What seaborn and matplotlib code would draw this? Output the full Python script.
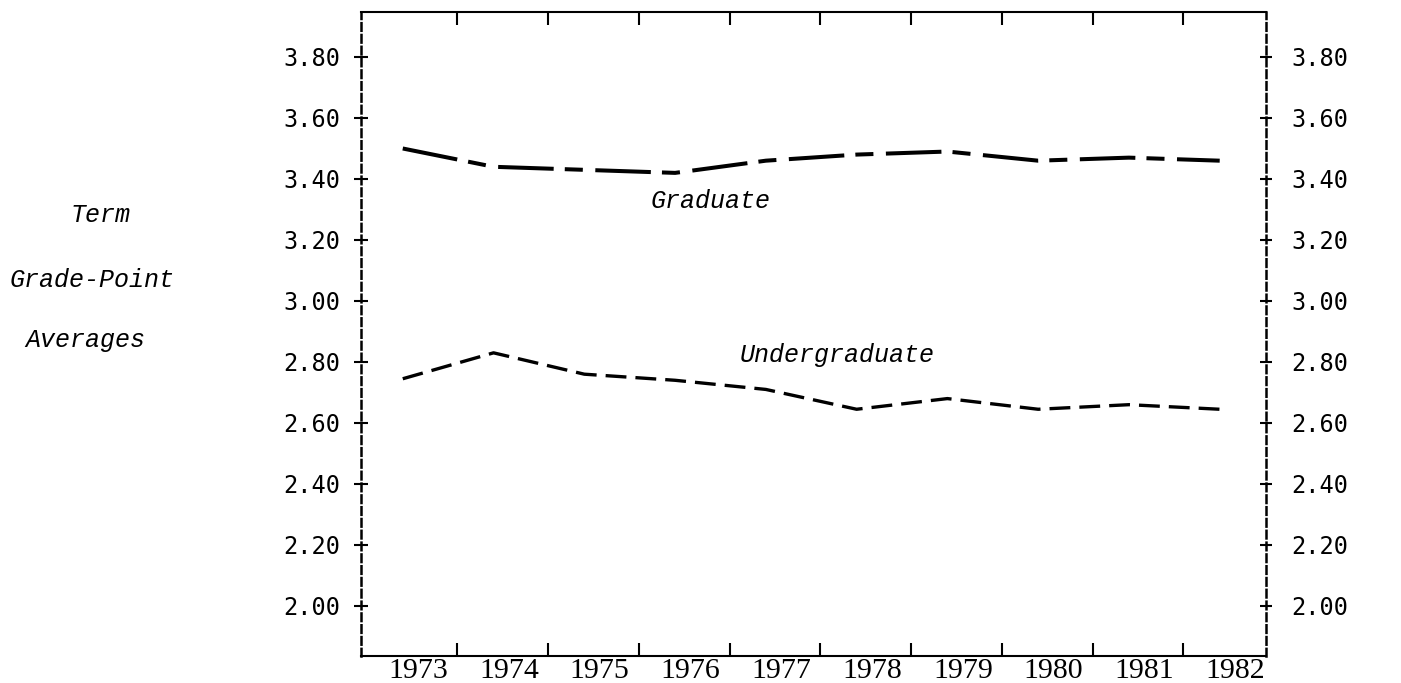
import matplotlib
matplotlib.use("Agg")
import matplotlib.pyplot as plt
from matplotlib import font_manager as fm
import seaborn as sns
import numpy as np
import pandas as pd

# ---- data ----
years = [1973, 1974, 1975, 1976, 1977, 1978, 1979, 1980, 1981, 1982]
graduate = [3.50, 3.44, 3.43, 3.42, 3.46, 3.48, 3.49, 3.46, 3.47, 3.46]
undergraduate = [2.745, 2.83, 2.76, 2.74, 2.71, 2.645, 2.68, 2.645, 2.66, 2.645]
y_ticks = [2.00, 2.20, 2.40, 2.60, 2.80, 3.00, 3.20, 3.40, 3.60, 3.80]
y_labels = ["2.00", "2.20", "2.40", "2.60", "2.80", "3.00", "3.20", "3.40", "3.60", "3.80"]
x_labels = [str(y) for y in years]
series_names = ["Graduate", "Undergraduate"]

df = pd.DataFrame({
    "year": years * 2,
    "gpa": graduate + undergraduate,
    "level": [series_names[0]] * len(years) + [series_names[1]] * len(years),
})


def pick(cands):
    for c in cands:
        try:
            fm.findfont(fm.FontProperties(family=c), fallback_to_default=False)
            return c
        except Exception:
            pass
    return "DejaVu Sans"


mono_italic = pick(["Liberation Mono", "DejaVu Sans Mono"])
year_font = pick(["Liberation Serif", "DejaVu Serif"])

sns.set_style("white")
plt.rcParams["lines.scale_dashes"] = False
plt.rcParams["font.family"] = ["DejaVu Sans"]
plt.rcParams["text.color"] = "black"
plt.rcParams["xtick.labelcolor"] = "black"
plt.rcParams["ytick.labelcolor"] = "black"

W, H = 1401, 683
fig = plt.figure(figsize=(W / 100, H / 100), dpi=100)
L, R, T, B = 361, 1266, 12, 656
ax = fig.add_axes([L / W, 1 - B / H, (R - L) / W, (B - T) / H])

sns.lineplot(
    data=df, x="year", y="gpa", style="level", ax=ax, color="black",
    dashes={"Graduate": (40, 8, 13, 9), "Undergraduate": (15, 6.5)},
    size="level", sizes={"Graduate": 2.9, "Undergraduate": 2.4},
    legend=False,
)

ax.set_xlim(1972.54, 1982.51)
ax.set_ylim(1.836, 3.9475)
ax.set_xlabel("")
ax.set_ylabel("")

# spines
for s in ["left", "right"]:
    ax.spines[s].set_linestyle((0, (5.5, 3)))
    ax.spines[s].set_linewidth(1.8)
    ax.spines[s].set_color("black")
for s in ["top", "bottom"]:
    ax.spines[s].set_linewidth(1.5)
    ax.spines[s].set_color("black")

# x ticks: labels centred in year cells, boundary ticks top & bottom
yrs = np.array(years, dtype=float)
ax.set_xticks(yrs + 0.17)
ax.set_xticklabels(x_labels)
ax.set_xticks(yrs[:-1] + 0.6, minor=True)
ax.tick_params(axis="x", which="major", length=0, pad=1.5, labelsize=21.5,
               labelfontfamily=year_font)
ax.tick_params(axis="x", which="minor", direction="in", length=9.5, width=1.5,
               top=True, bottom=True, color="black")

# left y
ax.set_yticks(y_ticks)
ax.set_yticklabels(y_labels)
ax.tick_params(axis="y", which="major", direction="inout", length=9.5, width=1.5,
               left=True, right=False, pad=10, labelsize=17,
               labelfontfamily="DejaVu Sans Mono", color="black")

# right y
ax2 = ax.twinx()
ax2.set_ylim(ax.get_ylim())
ax2.set_yticks(y_ticks)
ax2.set_yticklabels(y_labels)
ax2.tick_params(axis="y", direction="inout", length=8, width=1.5, pad=14,
                labelsize=17, labelfontfamily="DejaVu Sans Mono", color="black")
for s in ax2.spines.values():
    s.set_visible(False)
ax2.grid(False)
ax.grid(False)

# labels
tfont = dict(family=mono_italic, style="italic", size=18, color="black")
fig.text(101 / W, 1 - 215 / H, "Term", ha="center", va="center", **tfont)
fig.text(92 / W, 1 - 280 / H, "Grade-Point", ha="center", va="center", **tfont)
fig.text(85 / W, 1 - 340 / H, "Averages", ha="center", va="center", **tfont)
ax.text(1976.39, 3.328, series_names[0], ha="center", va="center", **tfont)
ax.text(1977.79, 2.823, series_names[1], ha="center", va="center", **tfont)

fig.savefig("out.png", dpi=100)
